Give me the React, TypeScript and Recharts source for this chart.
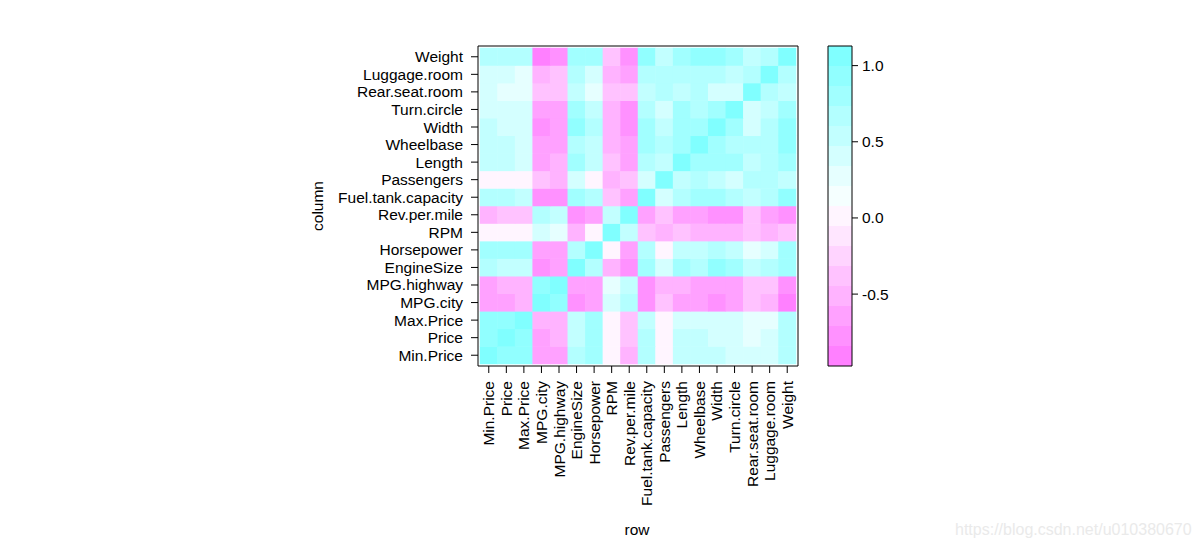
import React from "react";
import { ScatterChart, Scatter, XAxis, YAxis, ComposedChart, ReferenceArea } from "recharts";

// Cars93 numeric variables, in plot order (bottom-to-top on y, left-to-right on x)
const variables = [
  "Min.Price", "Price", "Max.Price", "MPG.city", "MPG.highway", "EngineSize",
  "Horsepower", "RPM", "Rev.per.mile", "Fuel.tank.capacity", "Passengers", "Length",
  "Wheelbase", "Width", "Turn.circle", "Rear.seat.room", "Luggage.room", "Weight",
];

// correlation rows, one per variable
const minPrice = [1, 0.971, 0.907, -0.623, -0.58, 0.645, 0.802, -0.043, -0.47, 0.667, 0.062, 0.553, 0.517, 0.494, 0.428, 0.36, 0.385, 0.667];
const price = [0.971, 1, 0.982, -0.595, -0.561, 0.597, 0.788, -0.005, -0.426, 0.619, 0.058, 0.504, 0.501, 0.456, 0.399, 0.311, 0.39, 0.647];
const maxPrice = [0.907, 0.982, 1, -0.548, -0.522, 0.535, 0.744, 0.025, -0.373, 0.553, 0.051, 0.445, 0.45, 0.406, 0.36, 0.278, 0.3, 0.605];
const mpgCity = [-0.623, -0.595, -0.548, 1, 0.944, -0.72, -0.673, 0.363, 0.696, -0.813, -0.417, -0.666, -0.667, -0.72, -0.666, -0.385, -0.55, -0.843];
const mpgHighway = [-0.58, -0.561, -0.522, 0.944, 1, -0.627, -0.619, 0.313, 0.587, -0.786, -0.466, -0.543, -0.615, -0.64, -0.594, -0.368, -0.44, -0.811];
const engineSize = [0.645, 0.597, 0.535, -0.72, -0.627, 1, 0.72, -0.548, -0.824, 0.759, 0.373, 0.78, 0.72, 0.87, 0.778, 0.489, 0.65, 0.845];
const horsepower = [0.802, 0.788, 0.744, -0.673, -0.619, 0.72, 1, 0.037, -0.6, 0.712, 0.009, 0.551, 0.487, 0.644, 0.561, 0.259, 0.36, 0.739];
const rpm = [-0.043, -0.005, 0.025, 0.363, 0.313, -0.548, 0.037, 1, 0.495, -0.333, -0.467, -0.441, -0.468, -0.54, -0.506, -0.32, -0.5, -0.428];
const revPerMile = [-0.47, -0.426, -0.373, 0.696, 0.587, -0.824, -0.6, 0.495, 1, -0.61, -0.335, -0.69, -0.637, -0.78, -0.733, -0.36, -0.58, -0.735];
const fuelTank = [0.667, 0.619, 0.553, -0.813, -0.786, 0.759, 0.712, -0.333, -0.61, 1, 0.45, 0.69, 0.757, 0.799, 0.671, 0.51, 0.62, 0.894];
const passengers = [0.062, 0.058, 0.051, -0.417, -0.466, 0.373, 0.009, -0.467, -0.335, 0.45, 1, 0.485, 0.694, 0.49, 0.453, 0.68, 0.64, 0.553];
const length = [0.553, 0.504, 0.445, -0.666, -0.543, 0.78, 0.551, -0.441, -0.69, 0.69, 0.485, 1, 0.824, 0.822, 0.739, 0.55, 0.71, 0.806];
const wheelbase = [0.517, 0.501, 0.45, -0.667, -0.615, 0.72, 0.487, -0.468, -0.637, 0.757, 0.694, 0.824, 1, 0.807, 0.723, 0.66, 0.65, 0.872];
const width = [0.494, 0.456, 0.406, -0.72, -0.64, 0.87, 0.644, -0.54, -0.78, 0.799, 0.49, 0.822, 0.807, 1, 0.818, 0.36, 0.66, 0.875];
const turnCircle = [0.428, 0.399, 0.36, -0.666, -0.594, 0.778, 0.561, -0.506, -0.733, 0.671, 0.453, 0.739, 0.723, 0.818, 1, 0.36, 0.58, 0.778];
const rearSeat = [0.36, 0.311, 0.278, -0.385, -0.368, 0.489, 0.259, -0.32, -0.36, 0.51, 0.68, 0.55, 0.66, 0.36, 0.36, 1, 0.65, 0.53];
const luggage = [0.385, 0.39, 0.3, -0.55, -0.44, 0.65, 0.36, -0.5, -0.58, 0.62, 0.64, 0.71, 0.65, 0.66, 0.58, 0.65, 1, 0.63];
const weight = [0.667, 0.647, 0.605, -0.843, -0.811, 0.845, 0.739, -0.428, -0.735, 0.894, 0.553, 0.806, 0.872, 0.875, 0.778, 0.53, 0.63, 1];

const rows = [
  minPrice, price, maxPrice, mpgCity, mpgHighway, engineSize, horsepower, rpm, revPerMile,
  fuelTank, passengers, length, wheelbase, width, turnCircle, rearSeat, luggage, weight,
];

// colour key: level breaks and region colours (magenta -> white -> cyan)
const breaks = [
  -0.972, -0.8407, -0.7094, -0.5781, -0.4468, -0.3155, -0.1842, -0.0529, 0.0784,
  0.2097, 0.341, 0.4723, 0.6036, 0.7349, 0.8662, 0.9975, 1.1288,
];
const bandColors = [
  "#FF80FF", "#FF91FF", "#FFA1FF", "#FFB3FF", "#FFC2FF", "#FFD4FF", "#FFE6FF", "#FFF5FF",
  "#F5FFFF", "#E6FFFF", "#D4FFFF", "#C2FFFF", "#B3FFFF", "#A1FFFF", "#91FFFF", "#80FFFF",
];
const keyTicks = [-0.5, 0, 0.5, 1.0];

const cells = rows.flatMap((r, j) => r.map((z, i) => ({ x: i + 1, y: j + 1, z })));
const bands = bandColors.map((c, i) => ({ lo: breaks[i], hi: breaks[i + 1], color: c }));

const FONT = "'Liberation Sans', Arial, sans-serif";
const FS = 15.5;
const PLOT = 320;
const DOM: [number, number] = [0.386, 18.614];
const CELL = PLOT / (DOM[1] - DOM[0]);
const axisTicks = variables.map((_, i) => i + 1);

function fillFor(z: number) {
  let k = 0;
  for (let i = 0; i < bandColors.length; i++) if (z >= breaks[i]) k = i;
  return bandColors[k];
}

const CellShape = (props: any) => {
  const { cx, cy, payload } = props;
  return (
    <rect
      x={cx - CELL / 2 - 0.25}
      y={cy - CELL / 2 - 0.25}
      width={CELL + 0.5}
      height={CELL + 0.5}
      fill={fillFor(payload.z)}
    />
  );
};

const BottomTick = ({ x, y, payload }: any) => (
  <text
    x={x}
    y={y}
    transform={`rotate(-90, ${x}, ${y})`}
    textAnchor="end"
    dominantBaseline="central"
    fontSize={FS}
    fontFamily={FONT}
    fill="#000"
  >
    {variables[payload.value - 1]}
  </text>
);

const LeftTick = ({ x, y, payload }: any) => (
  <text x={x} y={y} textAnchor="end" dominantBaseline="central" fontSize={FS} fontFamily={FONT} fill="#000">
    {variables[payload.value - 1]}
  </text>
);

const axisStroke = { stroke: "#000", strokeWidth: 1 };

export default function App() {
  return (
    <div style={{ position: "absolute", left: 0, top: 0, width: 1200, height: 551, background: "#fff", fontFamily: FONT }}>
      <div style={{ position: "absolute", left: 0, top: 0 }}>
        <ScatterChart width={1200} height={551} margin={{ top: 39, right: 395, bottom: 65, left: 0 }}>
          <XAxis
            dataKey="x"
            type="number"
            domain={DOM}
            ticks={axisTicks}
            interval={0}
            allowDataOverflow
            height={120}
            tickSize={7}
            tickMargin={8}
            tick={<BottomTick />}
            axisLine={axisStroke}
            tickLine={axisStroke}
          />
          <XAxis
            xAxisId="top"
            orientation="top"
            dataKey="x"
            type="number"
            domain={DOM}
            ticks={axisTicks}
            interval={0}
            allowDataOverflow
            height={7}
            tickSize={7}
            tick={false}
            axisLine={axisStroke}
            tickLine={axisStroke}
          />
          <YAxis
            dataKey="y"
            type="number"
            domain={DOM}
            ticks={axisTicks}
            interval={0}
            allowDataOverflow
            width={478}
            tickSize={7}
            tickMargin={8}
            tick={<LeftTick />}
            axisLine={axisStroke}
            tickLine={axisStroke}
          />
          <YAxis
            yAxisId="right"
            orientation="right"
            dataKey="y"
            type="number"
            domain={DOM}
            ticks={axisTicks}
            interval={0}
            allowDataOverflow
            width={7}
            tickSize={7}
            tick={false}
            axisLine={axisStroke}
            tickLine={axisStroke}
          />
          <Scatter data={cells} shape={<CellShape />} isAnimationActive={false} />
        </ScatterChart>
      </div>

      <div style={{ position: "absolute", left: 800, top: 0 }}>
        <ComposedChart width={120} height={551} data={bands} margin={{ top: 46, right: 8, bottom: 185, left: 28 }}>
          <XAxis type="number" dataKey="lo" hide />
          <YAxis
            type="number"
            orientation="right"
            domain={[breaks[0], breaks[breaks.length - 1]]}
            allowDataOverflow
            ticks={keyTicks}
            interval={0}
            width={60}
            tickSize={6}
            tickMargin={4}
            tickFormatter={(v: number) => v.toFixed(1)}
            tick={{ fill: "#000", fontSize: FS, fontFamily: FONT }}
            axisLine={false}
            tickLine={axisStroke}
          />
          {bands.map((b, i) => (
            <ReferenceArea
              key={i}
              y1={b.lo}
              y2={b.hi}
              fill={b.color}
              fillOpacity={1}
              stroke="none"
              ifOverflow="visible"
            />
          ))}
          <ReferenceArea
            y1={breaks[0]}
            y2={breaks[breaks.length - 1]}
            fill="none"
            stroke="#000"
            strokeWidth={1}
            ifOverflow="visible"
          />
        </ComposedChart>
      </div>

      <div
        style={{
          position: "absolute",
          left: 318,
          top: 206,
          transform: "translate(-50%, -50%) rotate(-90deg)",
          fontSize: FS,
          whiteSpace: "nowrap",
          color: "#000",
        }}
      >
        column
      </div>
      <div
        style={{
          position: "absolute",
          left: 637,
          top: 530,
          transform: "translate(-50%, -50%)",
          fontSize: FS,
          color: "#000",
        }}
      >
        row
      </div>
      <div
        style={{
          position: "absolute",
          left: 955,
          top: 521,
          fontSize: 16,
          color: "#eaeaea",
          whiteSpace: "nowrap",
        }}
      >
        https://blog.csdn.net/u010380670
      </div>
    </div>
  );
}
